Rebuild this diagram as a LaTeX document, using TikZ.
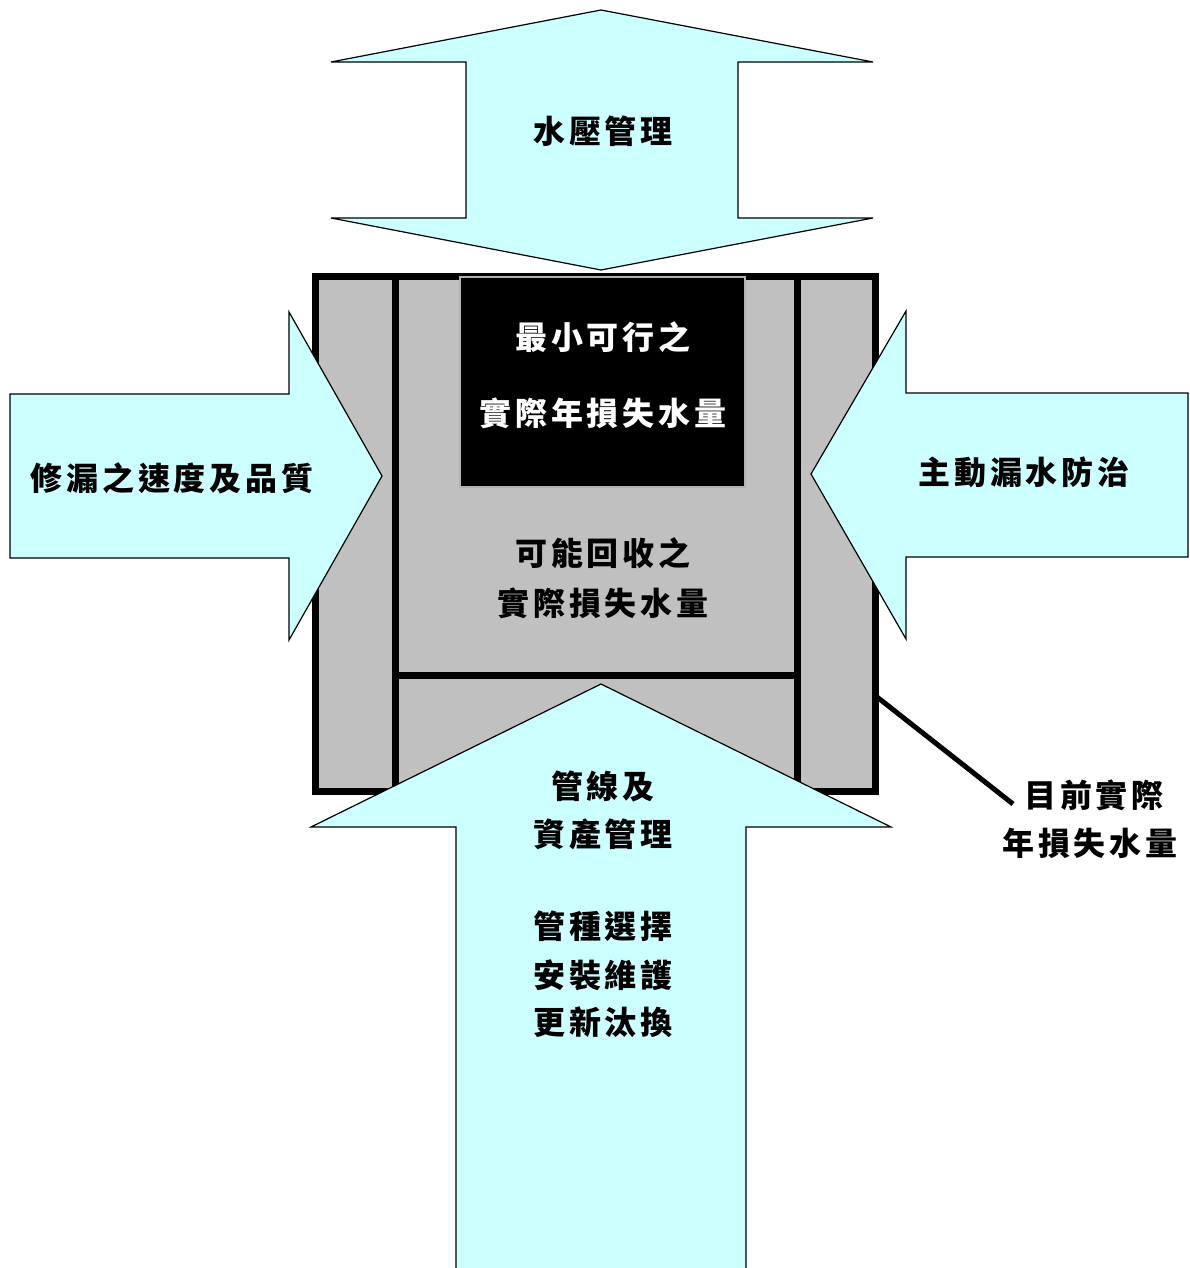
\documentclass[tikz,border=0pt]{standalone}
\usepackage{fontspec}
\setmainfont{Noto Sans CJK TC}[LetterSpace=12]
\definecolor{cyanfill}{HTML}{CCFFFF}
\definecolor{boxgray}{HTML}{C0C0C0}
\begin{document}
\begin{tikzpicture}[x=1pt,y=-1pt,
  arr/.style={fill=cyanfill, draw=black, line width=1.2pt, line join=miter},
  lbl/.style={font=\fontsize{32}{38}\selectfont\bfseries, inner sep=0pt, text=black},
  wlbl/.style={lbl, text=white},
  frame/.style={line width=7pt},
]
\useasboundingbox (0,0) rectangle (1190,1268);
% main box
\draw[frame, fill=boxgray] (315,276) rectangle (875,791);
\draw[frame] (395,276) -- (395,791);
\draw[frame] (797,276) -- (797,791);
\draw[frame] (395,675) -- (797,675);
\draw[fill=black, draw=gray!60, line width=1.5pt] (460,277) rectangle (745,487);
% top double arrow
\draw[arr] (601,10) -- (873,62) -- (738,62) -- (738,218) -- (873,218) -- (601,270)
  -- (331,218) -- (466,218) -- (466,62) -- (331,62) -- cycle;
% left arrow
\draw[arr] (10,394) -- (289,394) -- (289,312) -- (382,476) -- (289,640) -- (289,558) -- (10,558) -- cycle;
% right arrow
\draw[arr] (1188,393) -- (906,393) -- (906,311) -- (811,474) -- (906,639) -- (906,557) -- (1188,557) -- cycle;
% bottom arrow
\draw[arr] (601,684) -- (891,827) -- (746,827) -- (746,1275) -- (456,1275) -- (456,827) -- (311,827) -- cycle;
% callout
\coordinate (c1) at (877,697);
\coordinate (c2) at (1013,804);
\draw[line width=5pt] (c1) -- (c2);
% texts
\node[lbl] (t1) at (603,131) {水壓管理};
\node[wlbl] (t2) at (603,337) {最小可行之};
\node[wlbl] (t3) at (603,413) {實際年損失水量};
\node[lbl] (t4) at (603,553) {可能回收之};
\node[lbl] (t5) at (603,603) {實際損失水量};
\node[lbl] (t6) at (172,478) {修漏之速度及品質};
\node[lbl] (t7) at (1024,472) {主動漏水防治};
\node[lbl] (t8) at (603,786) {管線及};
\node[lbl] (t9) at (603,834) {資產管理};
\node[lbl] (t10) at (603,926) {管種選擇};
\node[lbl] (t11) at (603,975) {安裝維護};
\node[lbl] (t12) at (603,1022) {更新汰換};
\node[lbl] (t13) at (1094,795) {目前實際};
\node[lbl] (t14) at (1090,843) {年損失水量};
\end{tikzpicture}
\end{document}
